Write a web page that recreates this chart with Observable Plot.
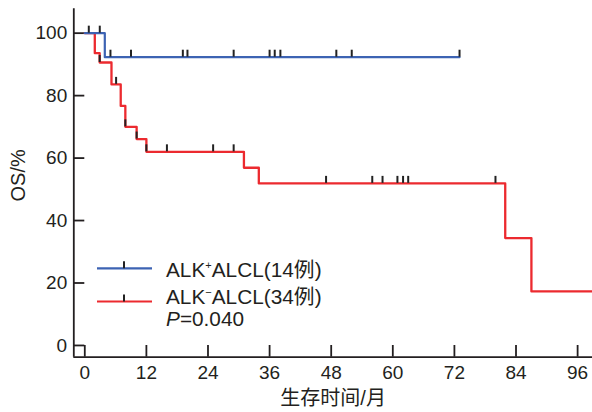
<!DOCTYPE html>
<html>
<head>
<meta charset="utf-8">
<script src="https://cdn.jsdelivr.net/npm/d3@7"></script>
<script src="https://cdn.jsdelivr.net/npm/@observablehq/plot@0.6"></script>
<style>
  html, body { margin: 0; padding: 0; background: #fff; }
  #wrap { position: relative; width: 592px; height: 412px; }
  #legend { position: absolute; left: 0; top: 0; }
</style>
</head>
<body>
<div id="wrap"><div id="chart"></div><svg id="legend" width="592" height="412"></svg></div>
<script>
// ---- data ----
const xTicks = [0, 12, 24, 36, 48, 60, 72, 84, 96];
const yTicks = [0, 20, 40, 60, 80, 100];
const xDomain = [-2.14, 98.9];
const yDomain = [-3.76, 107.8];

// ALK+ ALCL (14 cases) step curve
const posTimes = [0, 3.9, 73];
const posSurv = [100, 92.3, 92.3];
const posCensorTimes = [0.78, 2.92, 5.0, 9.0, 19.1, 20.0, 29.0, 36.0, 37.0, 38.1, 49.0, 52.0, 73.0];
const posCensorSurv = [100, 100, 92.3, 92.3, 92.3, 92.3, 92.3, 92.3, 92.3, 92.3, 92.3, 92.3, 92.3];

// ALK- ALCL (34 cases) step curve
const negTimes = [0, 1.95, 2.9, 5.2, 7.0, 7.9, 10.1, 12.0, 31.0, 33.9, 81.9, 87.0, 98.9];
const negSurv = [100, 93.6, 90.6, 83.6, 76.7, 70.0, 66.1, 62.0, 56.9, 51.9, 34.4, 17.3, 17.3];
const negCensorTimes = [2.9, 6.1, 7.9, 10.1, 12.0, 16.0, 25.0, 29.0, 47.0, 56.0, 58.0, 60.9, 62.0, 63.0, 80.0];
const negCensorSurv = [90.6, 83.6, 70.0, 66.1, 62.0, 62.0, 62.0, 62.0, 51.9, 51.9, 51.9, 51.9, 51.9, 51.9, 51.9];

const seriesNames = ["ALK+ALCL(14例)", "ALK-ALCL(34例)"];
const seriesColors = ["#3d63b3", "#ec2a2f"];
const pValue = "0.040";

// ---- build tables ----
const pos = posTimes.map((t, i) => ({t, s: posSurv[i]}));
const neg = negTimes.map((t, i) => ({t, s: negSurv[i]}));
const censors = posCensorTimes.map((t, i) => ({t, s: posCensorSurv[i]}))
  .concat(negCensorTimes.map((t, i) => ({t, s: negCensorSurv[i]})));

const ink = "#231f20";
const font = "'Liberation Sans', Arial, 'Noto Sans CJK SC', sans-serif";

const chart = Plot.plot({
  width: 592,
  height: 412,
  marginLeft: 73.3,
  marginRight: 0,
  marginTop: 8.3,
  marginBottom: 55.3,
  style: {fontFamily: font, fontSize: "19px", color: ink, background: "#fff"},
  x: {domain: xDomain},
  y: {domain: yDomain},
  marks: [
    Plot.axisY(yTicks, {tickSize: 0, tickPadding: 6.6, fontSize: 19, label: null}),
    Plot.axisX(xTicks, {tickSize: 0, tickPadding: 8.3, fontSize: 19, label: null}),
    // inward ticks
    Plot.ruleY(yTicks, {x1: xDomain[0], x2: xDomain[0], insetRight: -11, stroke: ink, strokeWidth: 1.8}),
    Plot.ruleX(xTicks, {y1: yDomain[0], y2: yDomain[0], insetTop: -11.7, stroke: ink, strokeWidth: 1.8}),
    // axis lines
    Plot.ruleX([xDomain[0]], {stroke: ink, strokeWidth: 1.8}),
    Plot.ruleY([yDomain[0]], {stroke: ink, strokeWidth: 1.8}),
    // curves
    Plot.line(neg, {x: "t", y: "s", curve: "step-after", stroke: seriesColors[1], strokeWidth: 2.3}),
    Plot.line(pos, {x: "t", y: "s", curve: "step-after", stroke: seriesColors[0], strokeWidth: 2.2}),
    // censor marks
    Plot.ruleX(censors, {x: "t", y1: "s", y2: "s", insetTop: -7, stroke: "#222", strokeWidth: 2}),
    // axis titles
    Plot.text(["OS/%"], {frameAnchor: "left", rotate: -90, dx: -54.8, dy: 18.5, lineAnchor: "middle", fontSize: 20, fill: ink}),
    Plot.text(["生存时间/月"], {frameAnchor: "bottom", dy: 41.5, lineAnchor: "middle", fontSize: 20, fill: ink})
  ]
});
document.getElementById("chart").appendChild(chart);

// ---- legend ----
const lg = d3.select("#legend").style("font-family", font).style("font-size", "20.8px");
const rows = [{y: 268.3, base: 277}, {y: 301.5, base: 303.5}];
rows.forEach((r, i) => {
  lg.append("line").attr("x1", 97).attr("x2", 152).attr("y1", r.y).attr("y2", r.y)
    .attr("stroke", seriesColors[i]).attr("stroke-width", 2.2);
  lg.append("line").attr("x1", 124).attr("x2", 124).attr("y1", r.y - 7).attr("y2", r.y)
    .attr("stroke", "#222").attr("stroke-width", 2);
  const name = seriesNames[i];
  const sign = name[3] === "+" ? "+" : "−";
  const t = lg.append("text").attr("x", 166).attr("y", r.base).attr("fill", ink);
  t.append("tspan").text(name.slice(0, 3));
  t.append("tspan").attr("font-size", 11).attr("dy", -8).text(sign);
  t.append("tspan").attr("dy", 8).text(name.slice(4));
});
const pt = lg.append("text").attr("x", 166).attr("y", 326).attr("fill", ink);
pt.append("tspan").attr("font-style", "italic").text("P");
pt.append("tspan").text("=" + pValue);
</script>
</body>
</html>
